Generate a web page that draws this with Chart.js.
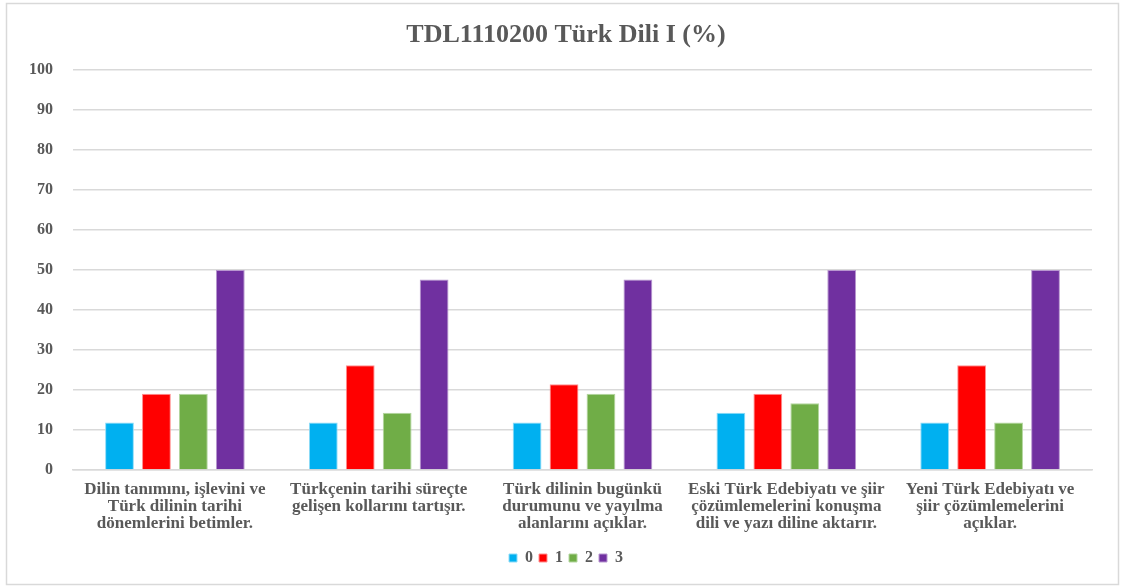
<!DOCTYPE html>
<html>
<head>
<meta charset="utf-8">
<script src="https://cdn.jsdelivr.net/npm/chart.js@4/dist/chart.umd.min.js"></script>
<style>
  body { margin: 0; background: #fff; }
</style>
</head>
<body>
<canvas id="chart" width="1121" height="586"></canvas>
<script>
// learning outcomes (x axis), one line per array entry
const categories = [
  ["Dilin tanımını, işlevini ve", "Türk dilinin tarihi", "dönemlerini betimler."],
  ["Türkçenin tarihi süreçte", "gelişen kollarını tartışır."],
  ["Türk dilinin bugünkü", "durumunu ve yayılma", "alanlarını açıklar."],
  ["Eski Türk Edebiyatı ve şiir", "çözümlemelerini konuşma", "dili ve yazı diline aktarır."],
  ["Yeni Türk Edebiyatı ve", "şiir çözümlemelerini", "açıklar."],
];

// share of students per score level (%)
const level0 = [11.9, 11.9, 11.9, 14.29, 11.9];
const level1 = [19.05, 26.19, 21.43, 19.05, 26.19];
const level2 = [19.05, 14.29, 19.05, 16.67, 11.9];
const level3 = [50, 47.62, 47.62, 50, 50];

const seriesNames = ["0", "1", "2", "3"];

const FONT = "'Liberation Serif', 'Times New Roman', serif";
const TEXT = "#595959";

// white background + thin grey frame around the whole chart
const frame = {
  id: "frame",
  beforeDraw(chart) {
    const { ctx } = chart;
    ctx.save();
    ctx.fillStyle = "#fff";
    ctx.fillRect(0, 0, chart.width, chart.height);
    ctx.strokeStyle = "#d9d9d9";
    ctx.lineWidth = 1.5;
    ctx.strokeRect(6.5, 3.5, 1112, 581);
    ctx.restore();
  },
};

const ctx = document.getElementById("chart").getContext("2d");

new Chart(ctx, {
  type: "bar",
  data: {
    labels: categories,
    datasets: [
      { label: seriesNames[0], data: level0, backgroundColor: "#00b0f0", borderColor: "#8fdcf8" },
      { label: seriesNames[1], data: level1, backgroundColor: "#ff0000", borderColor: "#ff9090" },
      { label: seriesNames[2], data: level2, backgroundColor: "#70ad47", borderColor: "#b4d6a0" },
      { label: seriesNames[3], data: level3, backgroundColor: "#7030a0", borderColor: "#b897d0" },
    ],
  },
  options: {
    responsive: false,
    animation: false,
    categoryPercentage: 0.725,
    barPercentage: 0.78,
    datasets: {
      bar: { borderWidth: 1 },
    },
    // title and legend are centred on the frame, so the padding is lopsided
    // and the empty right-hand axis keeps the plot off the right edge
    layout: {
      padding: { left: 20, right: 9, top: 0, bottom: 10 },
    },
    plugins: {
      tooltip: { enabled: false },
      title: {
        display: true,
        text: "TDL1110200 Türk Dili I (%)",
        color: TEXT,
        font: { family: FONT, size: 26, weight: "bold" },
        padding: { top: 20, bottom: 19 },
      },
      legend: {
        position: "bottom",
        labels: {
          color: TEXT,
          font: { family: FONT, size: 16, weight: "bold" },
          boxWidth: 8,
          boxHeight: 8,
          padding: 6,
        },
      },
    },
    scales: {
      x: {
        grid: { display: false },
        border: { color: "#d9d9d9", width: 1.5 },
        ticks: {
          color: TEXT,
          font: { family: FONT, size: 17, weight: "bold", lineHeight: 1.0 },
          maxRotation: 0,
          autoSkip: false,
          padding: 3,
        },
        afterFit(axis) {
          axis.height = 74;
        },
      },
      y: {
        min: 0,
        max: 100,
        border: { display: false },
        grid: { color: "#d9d9d9", lineWidth: 1.5, drawTicks: false },
        ticks: {
          stepSize: 10,
          color: TEXT,
          font: { family: FONT, size: 16, weight: "bold" },
          padding: 20,
        },
        afterFit(axis) {
          axis.width = 53;
        },
      },
      spacer: {
        position: "right",
        grid: { display: false, drawTicks: false },
        border: { display: false },
        ticks: { display: false },
        afterFit(axis) {
          axis.width = 20;
        },
      },
    },
  },
  plugins: [frame],
});
</script>
</body>
</html>
